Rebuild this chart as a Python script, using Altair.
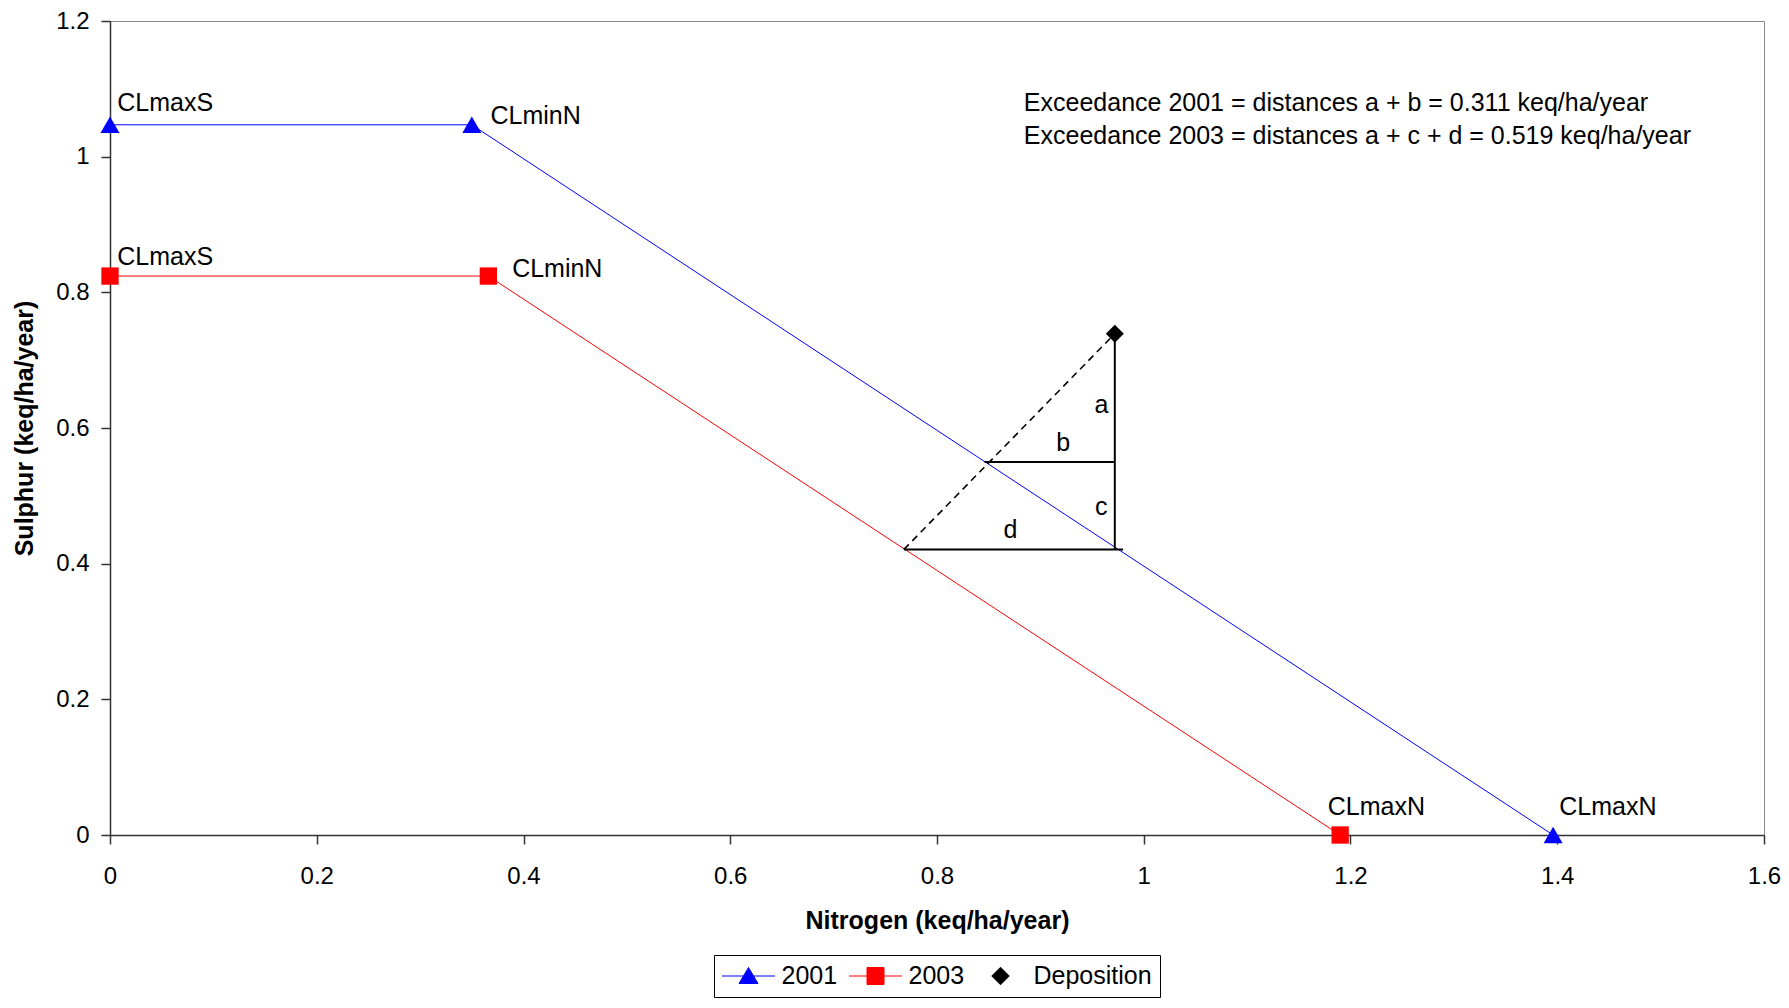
import altair as alt
import pandas as pd

FONT = "Liberation Sans"

# ---------------- data ----------------
n_2001 = [0.0, 0.35, 1.396]
s_2001 = [1.047, 1.047, 0.0]
n_2003 = [0.0, 0.366, 1.19]
s_2003 = [0.824, 0.824, 0.0]
dep_n = [0.972]
dep_s = [0.739]

point_names = ["CLmaxS", "CLminN", "CLmaxN"]
# label anchors (left edge, baseline) in data units
lab_n_2001 = [0.007, 0.368, 1.402]
lab_s_2001 = [1.067, 1.048, 0.029]
lab_n_2003 = [0.007, 0.389, 1.178]
lab_s_2003 = [0.841, 0.823, 0.030]

# exceedance construction
seg_n1 = [0.972, 0.846, 0.768]
seg_s1 = [0.739, 0.550, 0.421]
seg_n2 = [0.972, 0.972, 0.980]
seg_s2 = [0.421, 0.550, 0.421]
dash_n1, dash_s1, dash_n2, dash_s2 = [0.768], [0.421], [0.972], [0.739]
letters = ["a", "b", "c", "d"]
letter_n = [0.959, 0.922, 0.959, 0.871]
letter_s = [0.634, 0.578, 0.484, 0.449]

notes = [
    "Exceedance 2001 = distances a + b = 0.311 keq/ha/year",
    "Exceedance 2003 = distances a + c + d = 0.519 keq/ha/year",
]
note_n = [0.884, 0.884]
note_s = [1.068, 1.019]

x_ticks = [0, 0.2, 0.4, 0.6, 0.8, 1, 1.2, 1.4, 1.6]
y_ticks = [0, 0.2, 0.4, 0.6, 0.8, 1, 1.2]

legend_names = ["2001", "2003", "Deposition"]
legend_colors = ["#0000FF", "#FF0000", "#000000"]
legend_paths = [
    "M-2.12,0H2.12M0,-0.68L0.76,0.6L-0.76,0.6Z",
    "M-2.12,0H2.12M-0.68,-0.68H0.68V0.68H-0.68Z",
    "M0,-0.7L0.7,0L0,0.7L-0.7,0Z",
]

# ---------------- tables ----------------
df2001 = pd.DataFrame({"x": n_2001, "y": s_2001, "i": range(3)})
df2003 = pd.DataFrame({"x": n_2003, "y": s_2003, "i": range(3)})
dfdep = pd.DataFrame({"x": dep_n, "y": dep_s})
lab2001 = pd.DataFrame({"x": lab_n_2001, "y": lab_s_2001, "t": point_names})
lab2003 = pd.DataFrame({"x": lab_n_2003, "y": lab_s_2003, "t": point_names})
segs = pd.DataFrame({"x": seg_n1, "y": seg_s1, "x2": seg_n2, "y2": seg_s2})
dash = pd.DataFrame({"x": dash_n1, "y": dash_s1, "x2": dash_n2, "y2": dash_s2})
lets = pd.DataFrame({"x": letter_n, "y": letter_s, "t": letters})
notes_df = pd.DataFrame({"x": note_n, "y": note_s, "t": notes})
leg_df = pd.DataFrame({"x": [0, 0, 0], "y": [0, 0, 0], "Series": legend_names})

X = alt.X(
    "x:Q",
    scale=alt.Scale(domain=[0, 1.6], nice=False, zero=False),
    axis=alt.Axis(
        values=x_ticks, format="~g", title="Nitrogen (keq/ha/year)", grid=False,
        tickSize=9, tickWidth=1.5, tickColor="#333333", domainColor="#333333", domainWidth=1.5,
        labelPadding=20, labelFontSize=24, labelFont=FONT, labelColor="black",
        labelFlush=False, labelOverlap=False,
        titleFont=FONT, titleFontSize=25, titleFontWeight="bold", titleColor="black",
        titleY=93, titleBaseline="alphabetic",
    ),
)
Y = alt.Y(
    "y:Q",
    scale=alt.Scale(domain=[0, 1.2], nice=False, zero=False),
    axis=alt.Axis(
        values=y_ticks, format="~g", title="Sulphur (keq/ha/year)", grid=False,
        tickSize=9, tickWidth=1.5, tickColor="#333333", domainColor="#333333", domainWidth=1.5,
        labelPadding=12, labelFontSize=24, labelFont=FONT, labelColor="black",
        labelFlush=False, labelOverlap=False,
        titleFont=FONT, titleFontSize=25, titleFontWeight="bold", titleColor="black",
        titleX=-78, titleY=407, titleAngle=270, titleBaseline="alphabetic",
    ),
)

line2001 = alt.Chart(df2001).mark_line(color="#0000FF", strokeWidth=1).encode(x=X, y=Y, order="i:Q")
line2003 = alt.Chart(df2003).mark_line(color="#FF0000", strokeWidth=1).encode(x=X, y=Y, order="i:Q")

seg_layer = alt.Chart(segs).mark_rule(color="black", strokeWidth=2).encode(x=X, y=Y, x2="x2:Q", y2="y2:Q")
dash_layer = alt.Chart(dash).mark_rule(color="black", strokeWidth=1.6, strokeDash=[7, 5]).encode(
    x=X, y=Y, x2="x2:Q", y2="y2:Q"
)

pts2001 = alt.Chart(df2001).mark_point(
    shape="triangle-up", filled=True, size=361, opacity=1, color="#0000FF"
).encode(x=X, y=Y)
pts2003 = alt.Chart(df2003).mark_point(
    shape="square", filled=True, size=300, opacity=1, color="#FF0000"
).encode(x=X, y=Y)
ptsdep = alt.Chart(dfdep).mark_point(
    shape="diamond", filled=True, size=324, opacity=1, color="#000000"
).encode(x=X, y=Y)

def text_layer(df, align="left", baseline="alphabetic"):
    return alt.Chart(df).mark_text(
        font=FONT, fontSize=25, color="black", align=align, baseline=baseline
    ).encode(x=X, y=Y, text="t:N")

t2001 = text_layer(lab2001)
t2003 = text_layer(lab2003)
tlets = text_layer(lets, align="center", baseline="middle")
tnotes = text_layer(notes_df)

leg = alt.Legend(
    title=None, orient="none", legendX=604, legendY=934, direction="horizontal", columns=3,
    symbolSize=625, symbolStrokeWidth=1, symbolOpacity=1, symbolOffset=13.5,
    labelFontSize=25, labelFont=FONT, labelColor="black", labelOffset=20, labelLimit=0,
    columnPadding=9, padding=8, strokeColor="black", fillColor="white",
)
legend_layer = alt.Chart(leg_df).transform_filter("false").mark_point(
    filled=True, opacity=1, strokeWidth=1
).encode(
    x=X, y=Y,
    fill=alt.Fill("Series:N", scale=alt.Scale(domain=legend_names, range=legend_colors), legend=leg),
    stroke=alt.Stroke("Series:N", scale=alt.Scale(domain=legend_names, range=legend_colors), legend=leg),
    shape=alt.Shape("Series:N", scale=alt.Scale(domain=legend_names, range=legend_paths), legend=leg),
)

chart = alt.layer(
    line2001, line2003, seg_layer, dash_layer, pts2001, pts2003, ptsdep,
    t2001, t2003, tlets, tnotes, legend_layer,
).properties(
    width=1654, height=814,
    padding={"left": 102, "top": 13, "right": 17, "bottom": 165},
    autosize=alt.AutoSizeParams(type="none"),
    background="white",
).configure_view(stroke="#888888", strokeWidth=1)

chart.save("out.html", embed_options={"renderer": "svg", "actions": False})
